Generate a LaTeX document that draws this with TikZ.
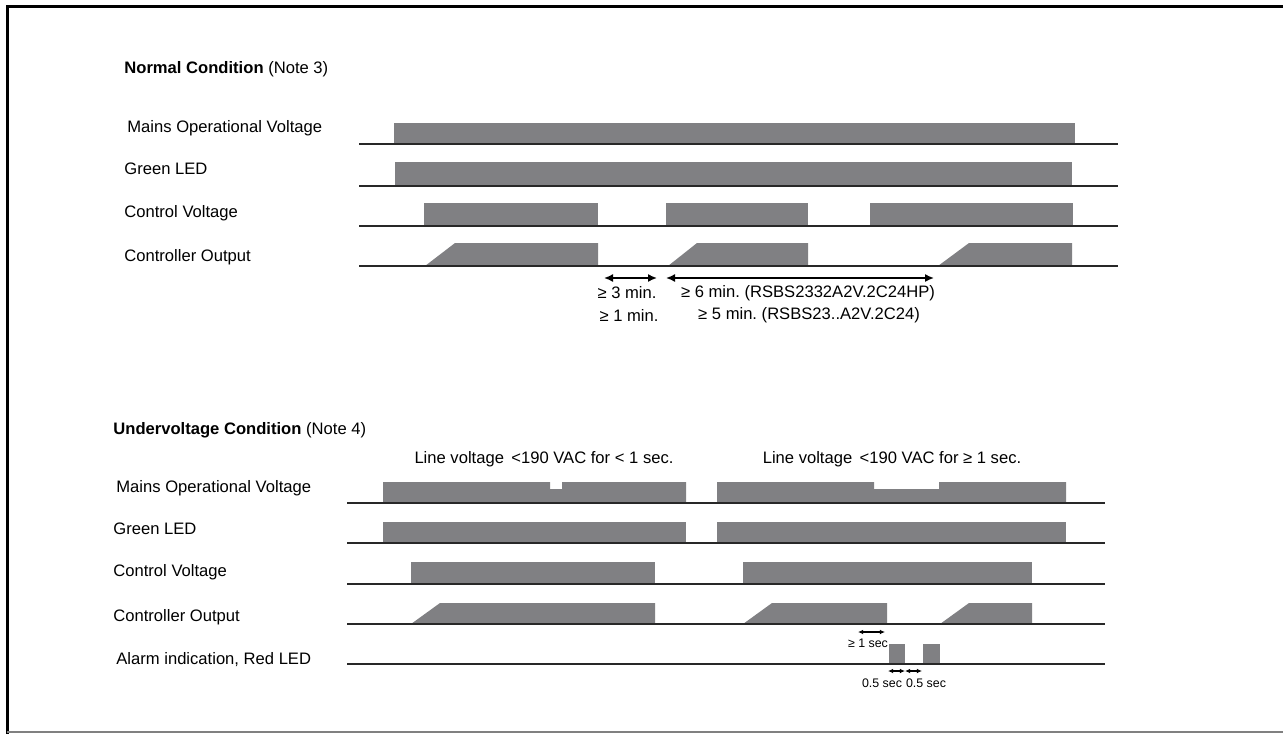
\documentclass[tikz,border=0pt]{standalone}
\usepackage{fontspec}
\setmainfont{Liberation Sans}
\usetikzlibrary{arrows.meta}
\definecolor{barfill}{RGB}{128,128,131}
\definecolor{linegray}{RGB}{40,40,40}
\frenchspacing
\begin{document}
\begin{tikzpicture}[
  x=0.5pt, y=-0.5pt,
  every node/.style={font=\fontsize{8.3}{10}\selectfont, inner sep=0pt},
  lbl/.style={anchor=west},
  bar/.style={fill=barfill, draw=none},
  base/.style={draw=linegray, line width=0.8pt},
  tiny/.style={font=\fontsize{6.2}{7}\selectfont},
  dim/.style={{Latex[length=4.5pt,width=4pt]}-{Latex[length=4.5pt,width=4pt]}, line width=0.8pt},
  sdim/.style={{Latex[length=2.6pt,width=2.4pt]}-{Latex[length=2.6pt,width=2.4pt]}, line width=0.6pt}
]
\useasboundingbox (0,0) rectangle (1283,733);
\draw[line width=1.5pt] (1290,7) -- (7,7) -- (7,734);
\draw[gray, line width=0.6pt] (7,732) -- (1290,732);

% normal condition
\node[lbl] (nhead) at (124,69) {\textbf{Normal Condition} (Note 3)};
\node[lbl] (nmains) at (127,128) {Mains Operational Voltage};
\node[lbl] (ngreen) at (124,169) {Green LED};
\node[lbl] (nctrl) at (124,213) {Control Voltage};
\node[lbl] (nout) at (124,257) {Controller Output};

\fill[bar] (394,123) rectangle (1075,144);
\fill[bar] (395,162) rectangle (1072,186);
\fill[bar] (424,203) rectangle (598,226);
\fill[bar] (666,203) rectangle (808,226);
\fill[bar] (870,203) rectangle (1073,226);
\fill[bar] (425,266) -- (455,243) -- (598,243) -- (598,266) -- cycle;
\fill[bar] (668,266) -- (697,243) -- (808,243) -- (808,266) -- cycle;
\fill[bar] (938,266) -- (969,243) -- (1072,243) -- (1072,266) -- cycle;

\draw[base] (359,144) -- (1118,144);
\draw[base] (359,186) -- (1118,186);
\draw[base] (359,226) -- (1118,226);
\draw[base] (359,266) -- (1118,266);

\coordinate (p1) at (604,278);
\coordinate (p2) at (657,278);
\coordinate (q1) at (666,278);
\coordinate (q2) at (934,278);
\draw[dim] (p1) -- (p2);
\draw[dim] (q1) -- (q2);
\node (t3) at (627,293) {≥ 3 min.};
\node (t1) at (629,315) {≥ 1 min.};
\node (t6) at (808,293) {≥ 6 min. (RSBS2332A2V.2C24HP)};
\node (t5) at (809,315) {≥ 5 min. (RSBS23..A2V.2C24)};

% undervoltage condition
\node[lbl] (uhead) at (113,430) {\textbf{Undervoltage Condition} (Note 4)};
\node[lbl] (umains) at (116,488) {Mains Operational Voltage};
\node[lbl] (ugreen) at (113,529) {Green LED};
\node[lbl] (uctrl) at (113,572) {Control Voltage};
\node[lbl] (uout) at (113,617) {Controller Output};
\node[lbl] (ualarm) at (116,660) {Alarm indication, Red LED};
\node (ushort) at (544,459) {Line voltage \,<190 VAC for < 1 sec.};
\node (ulong) at (892,459) {Line voltage \,<190 VAC for ≥ 1 sec.};

\fill[bar] (383,502) -- (383,482) -- (550,482) -- (550,489) -- (562,489) -- (562,482)
  -- (686,482) -- (686,502) -- cycle;
\fill[bar] (717,502) -- (717,482) -- (874,482) -- (874,489) -- (939,489) -- (939,482)
  -- (1066,482) -- (1066,502) -- cycle;
\fill[bar] (383,522) rectangle (686,543);
\fill[bar] (717,522) rectangle (1066,543);
\fill[bar] (411,562) rectangle (655,583);
\fill[bar] (743,562) rectangle (1032,583);
\fill[bar] (411,624) -- (440,603) -- (655,603) -- (655,624) -- cycle;
\fill[bar] (743,624) -- (772,603) -- (887,603) -- (887,624) -- cycle;
\fill[bar] (940,624) -- (969,603) -- (1032,603) -- (1032,624) -- cycle;
\fill[bar] (889,644) rectangle (905,664);
\fill[bar] (923,644) rectangle (940,664);

\draw[base] (347,503) -- (1105,503);
\draw[base] (347,543) -- (1105,543);
\draw[base] (347,584) -- (1105,584);
\draw[base] (347,624) -- (1105,624);
\draw[base] (347,664) -- (1105,664);

\coordinate (s1) at (858,632);
\coordinate (s2) at (885,632);
\coordinate (h1) at (888,671);
\coordinate (h2) at (905,671);
\coordinate (h3) at (922,671);
\draw[sdim] (s1) -- (s2);
\draw[sdim] (h1) -- (h2);
\draw[sdim] (h2) -- (h3);
\node[tiny] (ts) at (868,643) {≥ 1 sec};
\node[tiny] (th1) at (882,683) {0.5 sec};
\node[tiny] (th2) at (926,683) {0.5 sec};
\end{tikzpicture}
\end{document}
